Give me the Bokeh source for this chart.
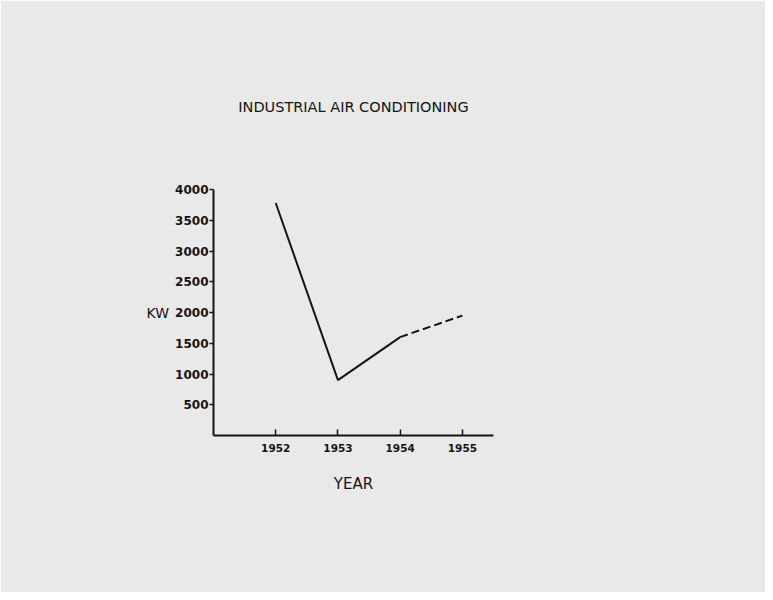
from bokeh.plotting import figure
from bokeh.embed import file_html
from bokeh.resources import INLINE
from bokeh.models import FixedTicker

years_solid = [1952, 1953, 1954]
kw_solid = [3780, 900, 1600]
years_dashed = [1954, 1955]
kw_dashed = [1600, 1950]
x_ticks = [1952, 1953, 1954, 1955]
y_ticks = [500, 1000, 1500, 2000, 2500, 3000, 3500, 4000]

bg = "#e9e9e9"
ink = "#151515"
font = "DejaVu Sans"

p = figure(frame_width=280, frame_height=246,
           min_border_left=213, min_border_right=272,
           min_border_top=189, min_border_bottom=157,
           x_range=(1951.0, 1955.5), y_range=(0, 4000),
           output_backend="svg", toolbar_location=None,
           title="INDUSTRIAL AIR CONDITIONING")

p.background_fill_color = bg
p.background_fill_alpha = 1.0
p.border_fill_color = bg
p.border_fill_alpha = 1.0
p.outline_line_color = None
p.grid.grid_line_color = None

p.title.align = "center"
p.title.text_font = font
p.title.text_font_size = "14.5px"
p.title.text_font_style = "normal"
p.title.text_color = ink
p.title.standoff = 150

p.line(years_solid, kw_solid, line_color=ink, line_width=2)
p.line(years_dashed, kw_dashed, line_color=ink, line_width=2, line_dash="8 4")

for ax in (p.xaxis, p.yaxis):
    ax.axis_line_color = ink
    ax.axis_line_width = 2
    ax.major_tick_line_color = ink
    ax.major_tick_line_width = 1.5
    ax.minor_tick_line_color = None
    ax.major_label_text_font = font
    ax.major_label_text_font_style = "bold"
    ax.major_label_text_color = ink
    ax.axis_label_text_font = font
    ax.axis_label_text_font_style = "normal"
    ax.axis_label_text_color = ink

p.xaxis.ticker = FixedTicker(ticks=x_ticks)
p.xaxis.major_tick_in = 6
p.xaxis.major_tick_out = 0
p.xaxis.major_label_standoff = 8
p.xaxis.major_label_text_font_size = "10.5px"
p.xaxis.axis_label = "YEAR"
p.xaxis.axis_label_text_font_size = "15px"
p.xaxis.axis_label_standoff = 20

p.yaxis.ticker = FixedTicker(ticks=y_ticks)
p.yaxis.major_tick_in = 0
p.yaxis.major_tick_out = 4
p.yaxis.major_label_standoff = 1
p.yaxis.major_label_text_font_size = "12px"
p.yaxis.axis_label = "KW"
p.yaxis.axis_label_orientation = "horizontal"
p.yaxis.axis_label_text_font_size = "14px"
p.yaxis.axis_label_standoff = 3

open("out.html", "w").write(file_html(p, INLINE))
